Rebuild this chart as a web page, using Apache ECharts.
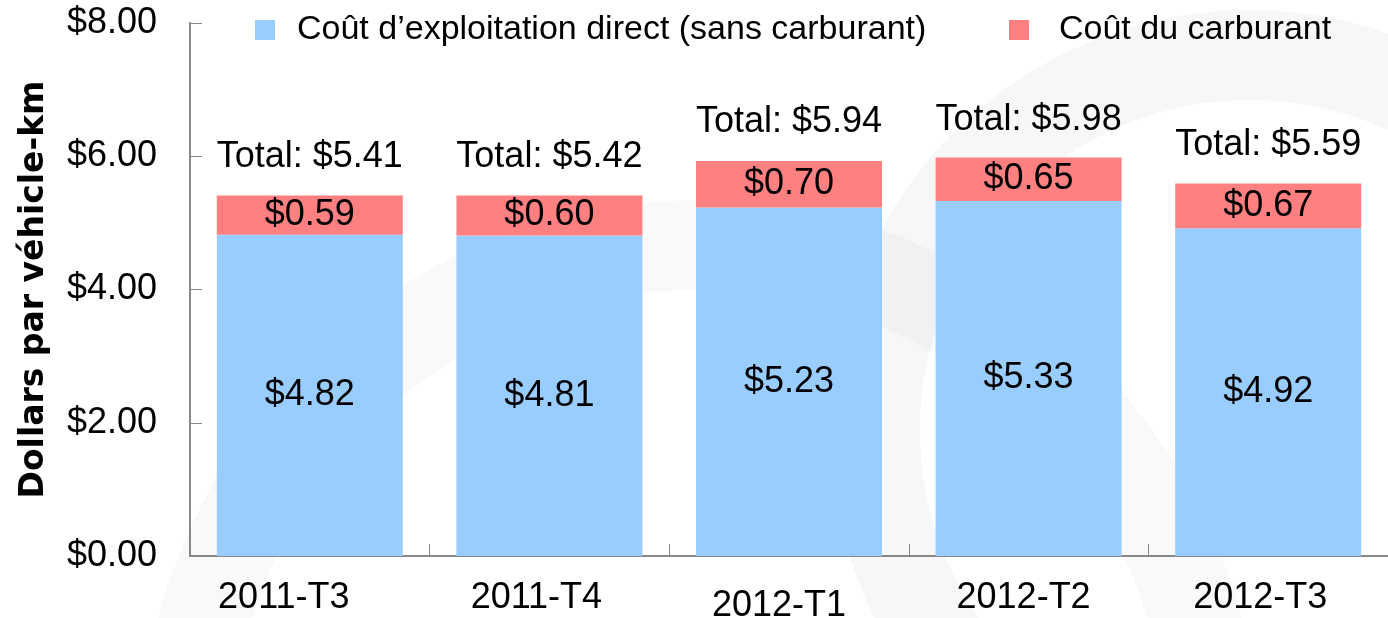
<!DOCTYPE html>
<html>
<head>
<meta charset="utf-8">
<script src="https://cdn.jsdelivr.net/npm/echarts@6/dist/echarts.min.js"></script>
<style>
  html, body { margin: 0; padding: 0; background: #fff; }
  #main { width: 1388px; height: 618px; }
</style>
</head>
<body>
<div id="main"></div>
<script>
// trimestres
var quarters = ['2011-T3', '2011-T4', '2012-T1', '2012-T2', '2012-T3']
// coût direct sans carburant / coût du carburant / total affiché
var directCost = [4.82, 4.81, 5.23, 5.33, 4.92]
var fuelCost = [0.59, 0.60, 0.70, 0.65, 0.67]
var totals = [5.41, 5.42, 5.94, 5.98, 5.59]
var yTicks = [0, 2, 4, 6, 8]

var myChart = echarts.init(document.getElementById('main'))
var font = 'Liberation Sans, Arial, sans-serif'
var money = function (v) { return '$' + Number(v).toFixed(2) }
var NAME_DIRECT = 'Coût d’exploitation direct (sans carburant)'
var NAME_FUEL = 'Coût du carburant'

// petits décalages des étiquettes de l'axe x comme dans l'original
var xRich = {
  a0: { fontSize: 36, color: '#000', padding: [0, 52, 0, 0] },
  a1: { fontSize: 36, color: '#000', padding: [0, 26, 0, 0] },
  a2: { fontSize: 36, color: '#000', padding: [8, 20, 0, 0] },
  a3: { fontSize: 36, color: '#000', padding: [0, 10, 0, 0] },
  a4: { fontSize: 36, color: '#000', padding: [0, 16, 0, 0] }
}

var option = {
  backgroundColor: '#fff',
  animation: false,
  textStyle: { fontFamily: font },
  // filigrane gris très pâle en arrière-plan
  graphic: [
    {
      type: 'ring', z: -10, silent: true,
      shape: { cx: 1250, cy: 430, r: 420, r0: 330 },
      style: { fill: 'rgba(0,0,0,0.03)' }
    },
    {
      type: 'ring', z: -10, silent: true,
      shape: { cx: 700, cy: 760, r: 560, r0: 470 },
      style: { fill: 'rgba(0,0,0,0.025)' }
    }
  ],
  legend: [
    {
      data: [NAME_DIRECT],
      left: 250,
      top: 8,
      icon: 'rect',
      itemWidth: 20,
      itemHeight: 20,
      textStyle: { fontSize: 34, color: '#000', fontFamily: font, padding: [0, 0, 0, 17] }
    },
    {
      data: [NAME_FUEL],
      left: 1004,
      top: 8,
      icon: 'rect',
      itemWidth: 20,
      itemHeight: 20,
      textStyle: { fontSize: 34, color: '#000', fontFamily: font, padding: [0, 0, 10, 25] }
    }
  ],
  grid: { left: 190, right: 0, top: 23, bottom: 62, containLabel: false, outerBoundsMode: 'none' },
  xAxis: {
    type: 'category',
    data: quarters,
    axisLine: { lineStyle: { color: '#888', width: 2 } },
    axisTick: { show: true, inside: true, length: 12, lineStyle: { color: '#888' } },
    axisLabel: {
      interval: 0,
      fontSize: 36, color: '#000', margin: 24,
      formatter: function (v, i) { return '{a' + i + '|' + v + '}' },
      rich: xRich
    }
  },
  yAxis: {
    type: 'value',
    min: yTicks[0],
    max: yTicks[yTicks.length - 1],
    interval: 2,
    name: 'Dollars par véhicle-km',
    nameLocation: 'middle',
    nameGap: 139,
    nameRotate: 90,
    nameTextStyle: { fontSize: 33, fontWeight: 'bold', color: '#000', fontFamily: 'DejaVu Sans, sans-serif' },
    axisLine: { show: true, lineStyle: { color: '#888', width: 2 } },
    axisTick: { show: true, inside: true, length: 12, lineStyle: { color: '#888' } },
    splitLine: { show: false },
    axisLabel: { fontSize: 36, color: '#000', margin: 33, formatter: money }
  },
  series: [
    {
      name: NAME_DIRECT,
      type: 'bar',
      stack: 'cout',
      barWidth: 186,
      data: directCost,
      itemStyle: { color: '#99ccff' },
      label: { show: true, position: 'inside', fontSize: 36, color: '#000', formatter: function (p) { return money(p.value) } }
    },
    {
      name: NAME_FUEL,
      type: 'bar',
      stack: 'cout',
      barWidth: 186,
      data: fuelCost,
      itemStyle: { color: '#ff8080' },
      label: { show: true, position: 'inside', fontSize: 36, color: '#000', formatter: function (p) { return money(p.value) } }
    },
    {
      name: 'Total',
      type: 'bar',
      barWidth: 186,
      barGap: '-100%',
      z: 1,
      data: totals,
      itemStyle: { color: 'rgba(0,0,0,0)' },
      label: { show: true, position: 'top', distance: 20, fontSize: 36, color: '#000', formatter: function (p) { return 'Total: ' + money(p.value) } }
    }
  ]
}
myChart.setOption(option)
</script>
</body>
</html>
